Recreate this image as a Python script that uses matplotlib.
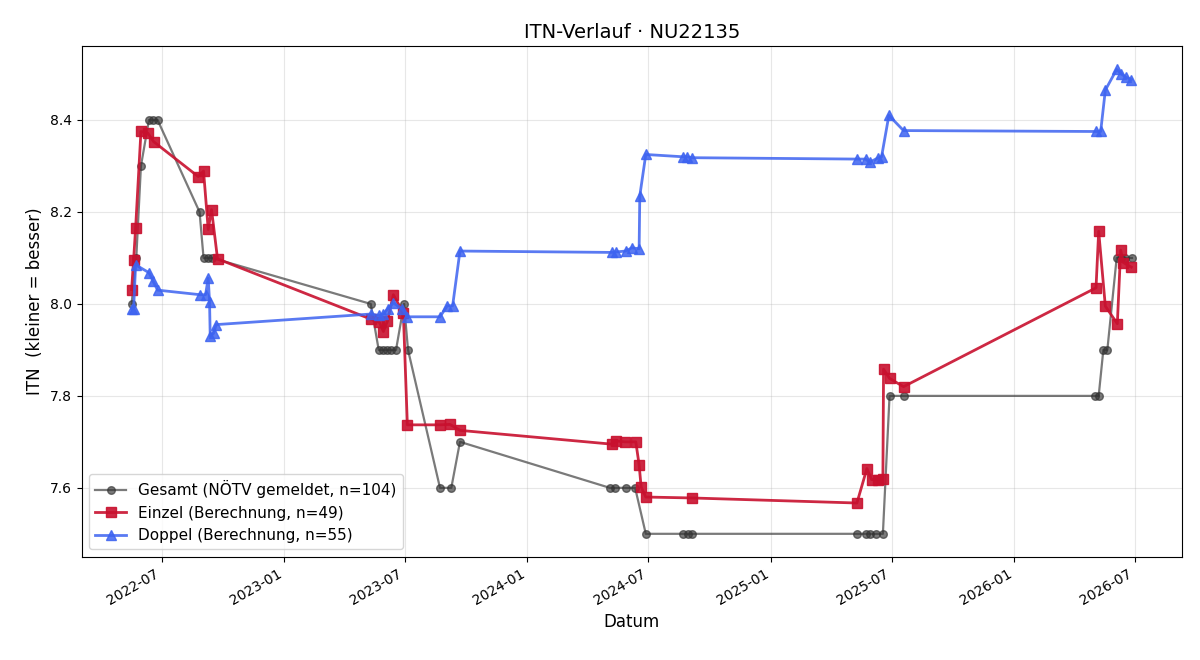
import matplotlib
matplotlib.use("Agg")
import matplotlib.pyplot as plt
import matplotlib.dates as mdates
import pandas as pd

gesamt_dates = ["2022-05-17", "2022-05-24", "2022-05-31", "2022-06-12", "2022-06-18", "2022-06-25",
                "2022-08-27", "2022-09-02", "2022-09-08", "2022-09-15",
                "2023-05-11", "2023-05-23", "2023-05-30", "2023-06-05", "2023-06-11", "2023-06-18",
                "2023-06-30", "2023-07-06", "2023-08-23", "2023-09-09", "2023-09-22",
                "2024-05-04", "2024-05-12", "2024-05-28", "2024-06-11", "2024-06-27",
                "2024-08-22", "2024-08-29", "2024-09-04",
                "2025-05-10", "2025-05-23", "2025-05-29", "2025-06-07", "2025-06-18",
                "2025-06-28", "2025-07-19",
                "2026-05-03", "2026-05-08", "2026-05-15", "2026-05-21",
                "2026-06-04", "2026-06-10", "2026-06-17", "2026-06-27"]
gesamt_vals = [8.0, 8.1, 8.3, 8.4, 8.4, 8.4,
               8.2, 8.1, 8.1, 8.1,
               8.0, 7.9, 7.9, 7.9, 7.9, 7.9,
               8.0, 7.9, 7.6, 7.6, 7.7,
               7.6, 7.6, 7.6, 7.6, 7.5,
               7.5, 7.5, 7.5,
               7.5, 7.5, 7.5, 7.5, 7.5,
               7.8, 7.8,
               7.8, 7.8, 7.9, 7.9,
               8.1, 8.1, 8.1, 8.1]

einzel_dates = ["2022-05-17", "2022-05-20", "2022-05-23", "2022-05-31", "2022-06-10", "2022-06-19",
                "2022-08-25", "2022-09-02", "2022-09-09", "2022-09-14", "2022-09-23",
                "2023-05-11", "2023-05-24", "2023-05-30", "2023-06-05", "2023-06-14",
                "2023-06-29", "2023-07-05", "2023-08-23", "2023-09-07", "2023-09-22",
                "2024-05-07", "2024-05-13", "2024-05-27", "2024-06-12", "2024-06-17",
                "2024-06-20", "2024-06-27", "2024-09-04",
                "2025-05-10", "2025-05-25", "2025-06-01", "2025-06-10", "2025-06-18",
                "2025-06-19", "2025-06-28", "2025-07-19",
                "2026-05-04", "2026-05-08", "2026-05-18", "2026-06-05", "2026-06-10",
                "2026-06-14", "2026-06-26"]
einzel_vals = [8.031, 8.096, 8.165, 8.375, 8.372, 8.353,
               8.277, 8.289, 8.162, 8.205, 8.098,
               7.967, 7.960, 7.940, 7.962, 8.020,
               7.980, 7.737, 7.737, 7.738, 7.725,
               7.695, 7.702, 7.700, 7.700, 7.650,
               7.602, 7.580, 7.578,
               7.567, 7.642, 7.618, 7.618, 7.620,
               7.858, 7.838, 7.820,
               8.035, 8.158, 7.995, 7.957, 8.117,
               8.090, 8.080]

doppel_dates = ["2022-05-17", "2022-05-20", "2022-05-23", "2022-06-12", "2022-06-18", "2022-06-25",
                "2022-08-28", "2022-09-05", "2022-09-09", "2022-09-11", "2022-09-12",
                "2022-09-17", "2022-09-21",
                "2023-05-11", "2023-05-23", "2023-05-30", "2023-06-06", "2023-06-14",
                "2023-06-27", "2023-07-05", "2023-08-23", "2023-09-03", "2023-09-11",
                "2023-09-22",
                "2024-05-07", "2024-05-13", "2024-05-28", "2024-06-06", "2024-06-17",
                "2024-06-18", "2024-06-27", "2024-08-22", "2024-08-28", "2024-09-04",
                "2025-05-10", "2025-05-23", "2025-05-29", "2025-06-10", "2025-06-16",
                "2025-06-27", "2025-07-19",
                "2026-05-04", "2026-05-11", "2026-05-18", "2026-06-04", "2026-06-11",
                "2026-06-18", "2026-06-26"]
doppel_vals = [7.990, 7.990, 8.085, 8.068, 8.050, 8.030,
               8.020, 8.020, 8.056, 8.005, 7.930,
               7.936, 7.955,
               7.978, 7.975, 7.978, 7.990, 8.002,
               7.990, 7.972, 7.972, 7.996, 7.996,
               8.115,
               8.112, 8.113, 8.115, 8.122, 8.120,
               8.235, 8.325, 8.320, 8.320, 8.318,
               8.315, 8.315, 8.308, 8.317, 8.320,
               8.410, 8.377,
               8.375, 8.375, 8.465, 8.510, 8.500,
               8.493, 8.488]

fig, ax = plt.subplots(figsize=(12, 6.6), dpi=100)

ax.plot(pd.to_datetime(gesamt_dates), gesamt_vals, color="#333333", alpha=0.65,
        linewidth=1.6, marker="o", markersize=5.5,
        label="Gesamt (NÖTV gemeldet, n=104)")
ax.plot(pd.to_datetime(einzel_dates), einzel_vals, color="#C8102E", alpha=0.9,
        linewidth=2.0, marker="s", markersize=7,
        label="Einzel (Berechnung, n=49)")
ax.plot(pd.to_datetime(doppel_dates), doppel_vals, color="#3D63F0", alpha=0.85,
        linewidth=2.0, marker="^", markersize=7,
        label="Doppel (Berechnung, n=55)")

ax.set_title("ITN-Verlauf · NU22135", fontsize=14)
ax.set_xlabel("Datum", fontsize=12)
ax.set_ylabel("ITN  (kleiner = besser)", fontsize=12)
ax.grid(True, alpha=0.3)
ax.xaxis.set_major_locator(mdates.MonthLocator(bymonth=[1, 7]))
ax.xaxis.set_major_formatter(mdates.DateFormatter("%Y-%m"))
ax.legend(loc="lower left", fontsize=11)
fig.autofmt_xdate()
fig.subplots_adjust(left=0.068, right=0.985, top=0.930, bottom=0.156)
fig.savefig("out.png", dpi=100)
